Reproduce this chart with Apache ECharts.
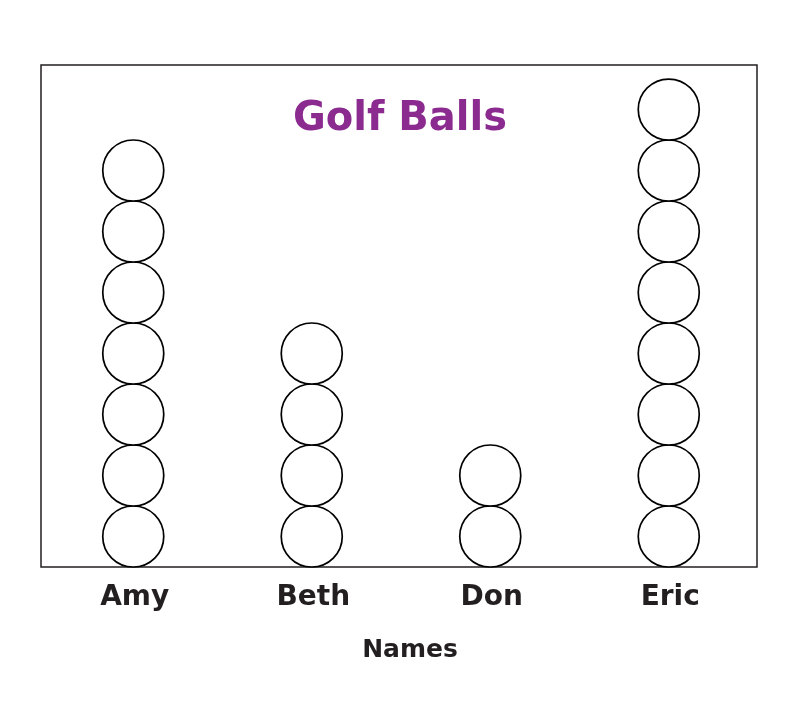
<!DOCTYPE html>
<html>
<head>
<meta charset="utf-8">
<script src="https://cdn.jsdelivr.net/npm/echarts@6/dist/echarts.min.js"></script>
<style>html,body{margin:0;padding:0;background:#fff}#c{width:800px;height:723px}</style>
</head>
<body>
<div id="c"></div>
<script>
var categories = ['Amy', 'Beth', 'Don', 'Eric'];
var golfBalls = [7, 4, 2, 8];
var chartTitle = 'Golf Balls';
var axisName = 'Names';

var points = [];
categories.forEach(function (c, i) {
  for (var k = 0; k < golfBalls[i]; k++) points.push([c, k + 0.5]);
});

var chart = echarts.init(document.getElementById('c'));
chart.setOption({
  animation: false,
  backgroundColor: '#fff',
  title: {
    text: chartTitle, left: 'center', top: 95,
    textStyle: { color: '#8B2A8F', fontSize: 40, fontWeight: 'bold', fontFamily: 'DejaVu Sans' }
  },
  grid: [
    { left: 41, right: 43, top: 65, bottom: 156, show: true, borderColor: '#231F20', borderWidth: 1.5, backgroundColor: 'transparent' },
    { left: 44, right: 42, top: 65, bottom: 156 }
  ],
  xAxis: [
    { gridIndex: 0, type: 'category', data: categories, show: false },
    {
      gridIndex: 1, type: 'category', data: categories,
      axisLine: { show: false }, axisTick: { show: false }, splitLine: { show: false },
      axisLabel: { color: '#231F20', fontSize: 28, fontWeight: 'bold', fontFamily: 'DejaVu Sans', margin: 17, padding: [0, 0, 0, 3] },
      name: axisName, nameLocation: 'middle', nameGap: 71,
      nameTextStyle: { color: '#231F20', fontSize: 25, fontWeight: 'bold', fontFamily: 'DejaVu Sans', padding: [0, 0, 0, 18] }
    }
  ],
  yAxis: [
    { gridIndex: 0, type: 'value', show: false, splitLine: { show: false } },
    { gridIndex: 1, type: 'value', min: 0, max: 8.23, show: false, splitLine: { show: false } }
  ],
  series: [{
    type: 'scatter', xAxisIndex: 1, yAxisIndex: 1, data: points, symbol: 'circle', symbolSize: 61,
    itemStyle: { color: '#fff', borderColor: '#000', borderWidth: 1.7, opacity: 1 },
    z: 3
  }]
});
</script>
</body>
</html>
